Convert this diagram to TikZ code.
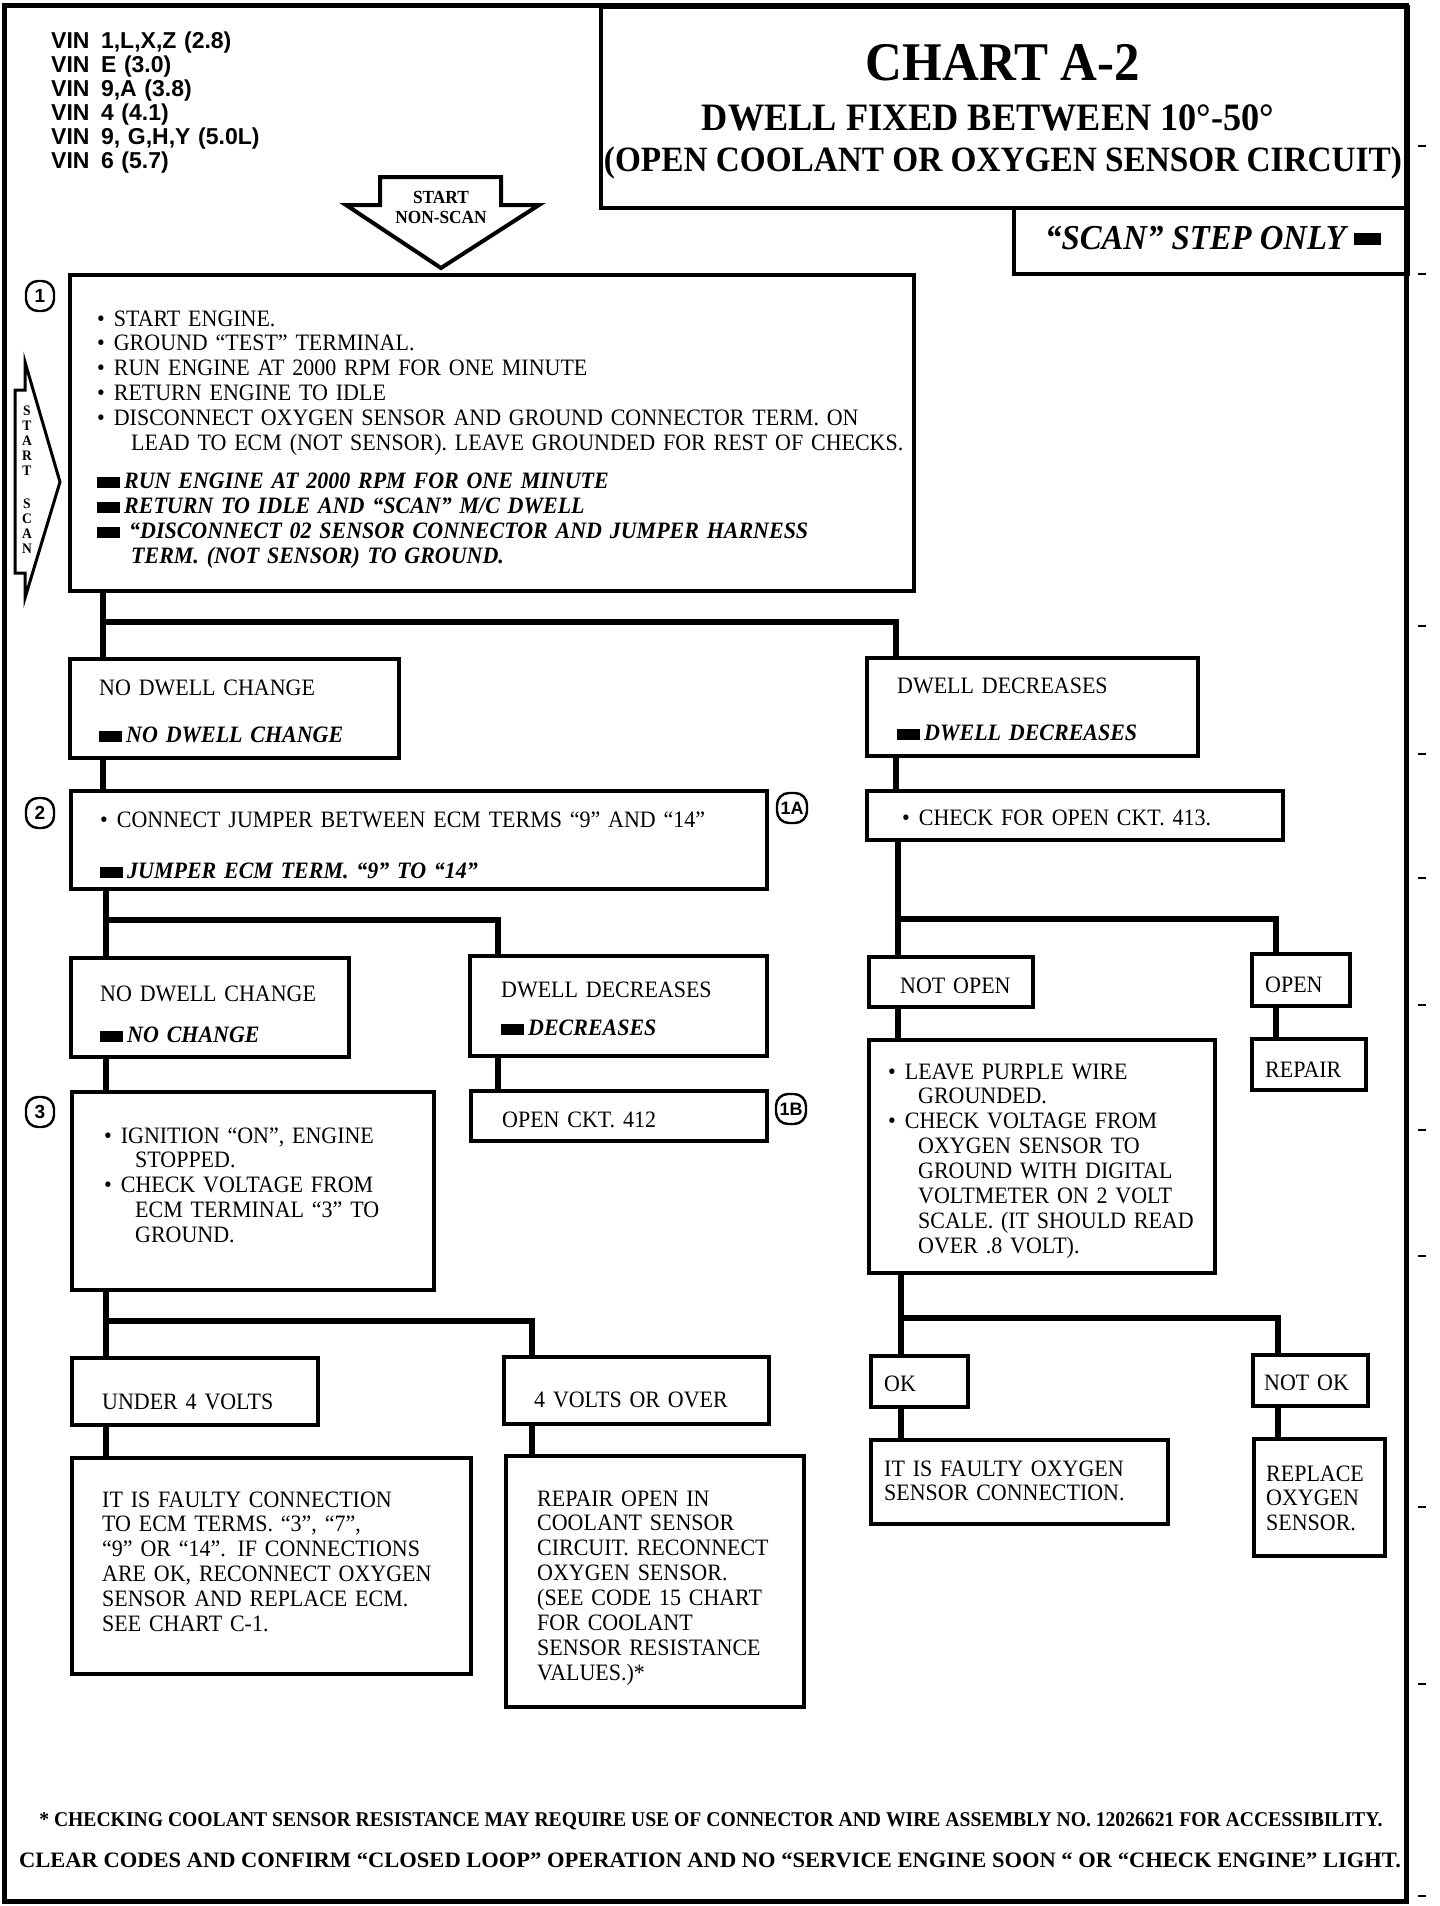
\documentclass[tikz,border=0pt]{standalone}
\usepackage{fontspec}
\setmainfont{Liberation Serif}[FakeStretch=0.935]
\newfontfamily\vinfont{Liberation Sans}
\usetikzlibrary{positioning}
\newcommand{\sqm}{\rule{23pt}{11pt}}
\newcommand{\bul}{\textbullet\hspace{9pt}}
\newcommand{\scan}[1]{\sqm\hspace{4pt}{\bfseries\itshape #1}}
\newcommand{\ind}[1][34pt]{\hspace*{#1}}
\newcommand{\vin}[1]{VIN\hspace{0.5em}#1}

\begin{document}
\begin{tikzpicture}[x=1pt,y=-1pt,
              box/.style={draw, line width=3.5pt, anchor=north west, inner sep=0pt},
              conn/.style={line width=6.5pt},
              txt/.style={anchor=base west, inner sep=0pt, align=left, text width=#1,
                          font=\fontsize{23.5}{24.9}\selectfont},
              txt/.default=900pt,
              circ/.style={draw, line width=2.4pt, rounded corners=12pt, minimum width=28pt,
                           minimum height=30pt, inner sep=0pt,
                           font=\vinfont\bfseries\fontsize{19}{19}\selectfont},
             ]
\useasboundingbox (0,0) rectangle (1440,1906);
\fill[white] (0,0) rectangle (1440,1906);

% frame, title and scan box
\draw[line width=5pt] (4.5,5) rectangle (1406,1901);
\node[box, line width=4pt, minimum width=807pt, minimum height=201pt] (title) at (599,5) {};
\node[anchor=base, font=\bfseries\fontsize{54.5}{54.5}\selectfont] (chart) at (1003,80) {CHART A-2};
\node[anchor=base, font=\bfseries\fontsize{38.8}{38.8}\selectfont] (dwell) at (988,130) {DWELL FIXED BETWEEN 10°-50°};
\node[anchor=base, font=\bfseries\fontsize{35.6}{35.6}\selectfont] (subtitle) at (1003,171) {(OPEN COOLANT OR OXYGEN SENSOR CIRCUIT)};
\node[box, line width=4pt, minimum width=394pt, minimum height=66pt] (scanbox) at (1012,206) {};
\node[anchor=base west, inner sep=0pt, font=\bfseries\itshape\fontsize{35}{35}\selectfont] (scanonly) at (1045,249)
  {“SCAN” STEP ONLY\hspace{8pt}\rule[4pt]{27pt}{12pt}};

% engine list
\node[anchor=base west, inner sep=0pt, align=left, text width=300pt,
      font=\vinfont\bfseries\fontsize{23}{24}\selectfont] (vins) at (51,48)
  {\vin{1,L,X,Z (2.8)}\\ \vin{E (3.0)}\\ \vin{9,A (3.8)}\\ \vin{4 (4.1)}\\ \vin{9, G,H,Y (5.0L)}\\ \vin{6 (5.7)}};

% start arrows
\draw[line width=4pt, fill=white] (380,177) -- (501,177) -- (501,205) -- (539,205) -- (441,268) -- (346,205) -- (380,205) -- cycle;
\node[anchor=base, inner sep=0pt, text width=110pt, align=center,
      font=\bfseries\fontsize{18.5}{20}\selectfont] (nonscan) at (441,203) {START\\NON-SCAN};
\draw[line width=3pt] (15,390) -- (25,390) -- (25,362) -- (60,482) -- (25,598) -- (25,573) -- (15,573) -- cycle;
\node[anchor=base, inner sep=0pt, text width=20pt, align=center,
      font=\bfseries\fontsize{14.5}{15}\selectfont] (startscan) at (27,415) {S\\T\\A\\R\\T\\[18pt]S\\C\\A\\N};

% step numbers
\node[circ] (c1) at (40,296) {1};
\node[circ] (c2) at (40,813) {2};
\node[circ] (c3) at (40,1112) {3};
\node[circ, minimum width=30pt, font=\vinfont\bfseries\fontsize{18}{18}\selectfont] (c1a) at (792,808) {1A};
\node[circ, minimum width=30pt, font=\vinfont\bfseries\fontsize{18}{18}\selectfont] (c1b) at (791,1109) {1B};

% boxes
\node[box, minimum width=844pt, minimum height=316pt] (step1) at (68,273) {};
\node[box, minimum width=329pt, minimum height=99pt] (nodw1) at (68,657) {};
\node[box, minimum width=331pt, minimum height=98pt] (dwdec1) at (865,656) {};
\node[box, minimum width=696pt, minimum height=98pt] (step2) at (69,789) {};
\node[box, minimum width=416pt, minimum height=49pt] (chk413) at (865,789) {};
\node[box, minimum width=278pt, minimum height=99pt] (nodw2) at (69,956) {};
\node[box, minimum width=297pt, minimum height=100pt] (dwdec2) at (468,954) {};
\node[box, minimum width=164pt, minimum height=50pt] (notopen) at (867,955) {};
\node[box, minimum width=98pt, minimum height=52pt] (open) at (1250,952) {};
\node[box, minimum width=296pt, minimum height=50pt] (open412) at (469,1089) {};
\node[box, minimum width=114pt, minimum height=51pt] (repair) at (1250,1037) {};
\node[box, minimum width=362pt, minimum height=198pt] (step3) at (70,1090) {};
\node[box, minimum width=346pt, minimum height=233pt] (purple) at (867,1038) {};
\node[box, minimum width=246pt, minimum height=67pt] (under4) at (70,1356) {};
\node[box, minimum width=265pt, minimum height=67pt] (over4) at (502,1355) {};
\node[box, minimum width=97pt, minimum height=51pt] (ok) at (869,1354) {};
\node[box, minimum width=115pt, minimum height=51pt] (notok) at (1251,1353) {};
\node[box, minimum width=399pt, minimum height=216pt] (faulty1) at (70,1456) {};
\node[box, minimum width=298pt, minimum height=251pt] (repair1) at (504,1454) {};
\node[box, minimum width=297pt, minimum height=84pt] (faulty2) at (869,1438) {};
\node[box, minimum width=131pt, minimum height=117pt] (replace) at (1252,1437) {};

% box texts
\node[txt] (step1txt) at (97,326) {\bul START ENGINE.\\ \bul GROUND “TEST” TERMINAL.\\
  \bul RUN ENGINE AT 2000 RPM FOR ONE MINUTE\\ \bul RETURN ENGINE TO IDLE\\
  \bul DISCONNECT OXYGEN SENSOR AND GROUND CONNECTOR TERM. ON\\
  \ind LEAD TO ECM (NOT SENSOR). LEAVE GROUNDED FOR REST OF CHECKS.\\[13pt]
  \scan{RUN ENGINE AT 2000 RPM FOR ONE MINUTE}\\ \scan{RETURN TO IDLE AND “SCAN” M/C DWELL}\\
  \sqm\hspace{9pt}{\bfseries\itshape “DISCONNECT 02 SENSOR CONNECTOR AND JUMPER HARNESS}\\
  \ind{\bfseries\itshape TERM. (NOT SENSOR) TO GROUND.}};
\node[txt] (nodw1txt) at (99,695) {NO DWELL CHANGE\\[22.1pt] \scan{NO DWELL CHANGE}};
\node[txt] (dwdec1txt) at (897,693) {DWELL DECREASES\\[22.1pt] \scan{DWELL DECREASES}};
\node[txt] (step2txt) at (100,827) {\bul CONNECT JUMPER BETWEEN ECM TERMS “9” AND “14”\\[26.1pt]
  \scan{JUMPER ECM TERM. “9” TO “14”}};
\node[txt] (chk413txt) at (902,825) {\bul CHECK FOR OPEN CKT. 413.};
\node[txt] (nodw2txt) at (100,1001) {NO DWELL CHANGE\\[16.1pt] \scan{NO CHANGE}};
\node[txt] (dwdec2txt) at (501,997) {DWELL DECREASES\\[13.1pt] \scan{DECREASES}};
\node[txt] (notopentxt) at (900,993) {NOT OPEN};
\node[txt] (opentxt) at (1265,992) {OPEN};
\node[txt] (open412txt) at (502,1127) {OPEN CKT. 412};
\node[txt] (repairtxt) at (1265,1077) {REPAIR};
\node[txt] (step3txt) at (104,1143) {\bul IGNITION “ON”, ENGINE\\ \ind[31pt]STOPPED.\\
  \bul CHECK VOLTAGE FROM\\ \ind[31pt]ECM TERMINAL “3” TO\\ \ind[31pt]GROUND.};
\node[txt] (purpletxt) at (888,1079) {\bul LEAVE PURPLE WIRE\\ \ind[30pt]GROUNDED.\\
  \bul CHECK VOLTAGE FROM\\ \ind[30pt]OXYGEN SENSOR TO\\ \ind[30pt]GROUND WITH DIGITAL\\
  \ind[30pt]VOLTMETER ON 2 VOLT\\ \ind[30pt]SCALE. (IT SHOULD READ\\ \ind[30pt]OVER .8 VOLT).};
\node[txt] (under4txt) at (102,1409) {UNDER 4 VOLTS};
\node[txt] (over4txt) at (534,1407) {4 VOLTS OR OVER};
\node[txt] (oktxt) at (884,1391) {OK};
\node[txt] (notoktxt) at (1264,1390) {NOT OK};
\node[txt] (faulty1txt) at (102,1507) {IT IS FAULTY CONNECTION\\ TO ECM TERMS. “3”, “7”,\\
  “9” OR “14”. IF CONNECTIONS\\ ARE OK, RECONNECT OXYGEN\\ SENSOR AND REPLACE ECM.\\ SEE CHART C-1.};
\node[txt] (repair1txt) at (537,1506) {REPAIR OPEN IN\\ COOLANT SENSOR\\ CIRCUIT. RECONNECT\\
  OXYGEN SENSOR.\\ (SEE CODE 15 CHART\\ FOR COOLANT\\ SENSOR RESISTANCE\\ VALUES.)*};
\node[txt] (faulty2txt) at (884,1476) {IT IS FAULTY OXYGEN\\ SENSOR CONNECTION.};
\node[txt] (replacetxt) at (1266,1481) {REPLACE\\ OXYGEN\\ SENSOR.};

% connectors
\coordinate (j1) at (103,622);
\coordinate (j1r) at (896,622);
\draw[conn] (step1.south -| j1) -- (nodw1.north -| j1);
\draw[conn] (j1) -- (j1r) -- (dwdec1.north -| j1r);
\draw[conn] (nodw1.south -| j1) -- (step2.north -| j1);
\coordinate (j2) at (106,920);
\coordinate (j2r) at (498,920);
\draw[conn] (step2.south -| j2) -- (nodw2.north -| j2);
\draw[conn] (j2) -- (j2r) -- (dwdec2.north -| j2r);
\draw[conn] (dwdec2.south -| j2r) -- (open412.north -| j2r);
\draw[conn] (nodw2.south -| j2) -- (step3.north -| j2);
\coordinate (j3) at (106,1321);
\coordinate (j3r) at (532,1321);
\draw[conn] (step3.south -| j3) -- (under4.north -| j3);
\draw[conn] (j3) -- (j3r) -- (over4.north -| j3r);
\draw[conn] (under4.south -| j3) -- (faulty1.north -| j3);
\draw[conn] (over4.south -| j3r) -- (repair1.north -| j3r);
\draw[conn] (dwdec1.south -| j1r) -- (chk413.north -| j1r);
\coordinate (j4) at (898,919);
\coordinate (j4r) at (1276,919);
\draw[conn] (chk413.south -| j4) -- (notopen.north -| j4);
\draw[conn] (j4) -- (j4r) -- (open.north -| j4r);
\draw[conn] (open.south -| j4r) -- (repair.north -| j4r);
\draw[conn] (notopen.south -| j4) -- (purple.north -| j4);
\coordinate (j5) at (901,1318);
\coordinate (j5r) at (1278,1318);
\draw[conn] (purple.south -| j5) -- (ok.north -| j5);
\draw[conn] (j5) -- (j5r) -- (notok.north -| j5r);
\draw[conn] (ok.south -| j5) -- (faulty2.north -| j5);
\draw[conn] (notok.south -| j5r) -- (replace.north -| j5r);

% notes
\node[anchor=base, inner sep=0pt, font=\bfseries\fontsize{21}{21}\selectfont] (note) at (711,1826)
  {* CHECKING COOLANT SENSOR RESISTANCE MAY REQUIRE USE OF CONNECTOR AND WIRE ASSEMBLY NO. 12026621 FOR ACCESSIBILITY.};
\node[anchor=base, inner sep=0pt, font=\bfseries\fontsize{22}{22}\selectfont] (clear) at (710,1867)
  {\scalebox{1.095}[1]{CLEAR CODES AND CONFIRM “CLOSED LOOP” OPERATION AND NO “SERVICE ENGINE SOON “ OR “CHECK ENGINE” LIGHT.}};

% page marks
\foreach \ty in {146,274,626,754,878,1005,1130,1256,1507,1684,1896}
  \draw[line width=1.2pt] (1418,\ty) -- (1426,\ty);
\end{tikzpicture}
\end{document}
